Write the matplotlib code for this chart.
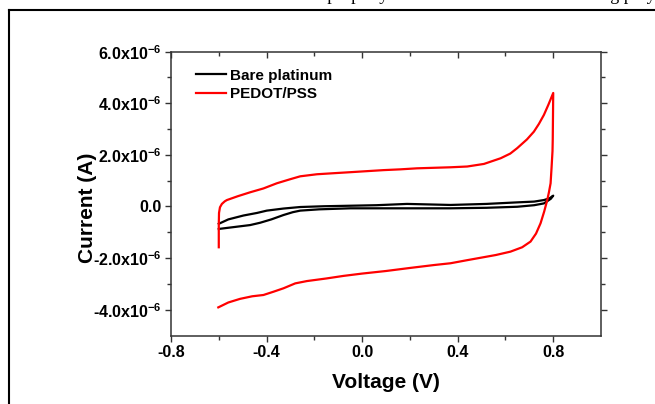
import matplotlib
matplotlib.use('Agg')
import matplotlib.pyplot as plt
from matplotlib.lines import Line2D
import numpy as np

plt.rcParams['font.family'] = 'Liberation Sans'
plt.rcParams['font.weight'] = 'bold'
plt.rcParams['mathtext.fontset'] = 'custom'
plt.rcParams['mathtext.rm'] = 'Liberation Sans:bold'
plt.rcParams['mathtext.bf'] = 'Liberation Sans:bold'

# Bare platinum CV (voltage in V, current in uA)
bare_v = [-0.600, -0.560, -0.497, -0.440, -0.399, -0.330, -0.259, -0.160, -0.049, 0.060,
          0.188, 0.280, 0.370, 0.520, 0.649, 0.720, 0.761, 0.785, 0.800,
          0.790, 0.761, 0.720, 0.649, 0.520, 0.370, 0.200, -0.049, -0.180, -0.259,
          -0.290, -0.329, -0.380, -0.427, -0.469, -0.539, -0.600]
bare_ua = [-0.67, -0.50, -0.35, -0.25, -0.16, -0.08, -0.02, 0.01, 0.03, 0.05,
           0.10, 0.08, 0.06, 0.10, 0.16, 0.19, 0.25, 0.32, 0.42,
           0.30, 0.12, 0.05, -0.01, -0.05, -0.07, -0.07, -0.07, -0.11, -0.16,
           -0.22, -0.33, -0.50, -0.63, -0.72, -0.80, -0.87]

# PEDOT/PSS CV (voltage in V, current in uA)
pedot_v = [-0.600, -0.600, -0.599, -0.595, -0.587, -0.575, -0.566, -0.520, -0.469, -0.413,
           -0.357, -0.300, -0.259, -0.189, -0.120, -0.049, 0.020, 0.090, 0.160, 0.230,
           0.300, 0.370, 0.440, 0.510, 0.580, 0.620, 0.649, 0.690, 0.719, 0.740,
           0.761, 0.780, 0.800,
           0.799, 0.798, 0.797, 0.793, 0.789, 0.782, 0.775, 0.762, 0.747, 0.728,
           0.705, 0.670, 0.621, 0.560, 0.500, 0.440, 0.370, 0.300, 0.202, 0.100,
           0.000, -0.078, -0.150, -0.231, -0.280, -0.329, -0.370, -0.413, -0.460,
           -0.511, -0.560, -0.602]
pedot_ua = [-1.58, -0.70, -0.25, -0.03, 0.10, 0.20, 0.25, 0.40, 0.55, 0.70,
            0.90, 1.06, 1.17, 1.25, 1.29, 1.33, 1.37, 1.41, 1.44, 1.48,
            1.50, 1.52, 1.55, 1.65, 1.87, 2.05, 2.26, 2.60, 2.90, 3.20,
            3.55, 3.95, 4.40,
            3.50, 2.60, 2.15, 1.50, 0.90, 0.55, 0.25, -0.20, -0.65, -1.05,
            -1.36, -1.58, -1.75, -1.88, -1.98, -2.08, -2.20, -2.27, -2.38, -2.50,
            -2.60, -2.69, -2.79, -2.89, -2.98, -3.17, -3.30, -3.43, -3.48,
            -3.58, -3.72, -3.91]

x_ticks = [-0.8, -0.4, 0.0, 0.4, 0.8]
x_ticklabels = ['-0.8', '-0.4', '0.0', '0.4', '0.8']
y_ticks = [-4e-6, -2e-6, 0.0, 2e-6, 4e-6, 6e-6]
y_ticklabels = [r'-4.0x10$^{-6}$', r'-2.0x10$^{-6}$', '0.0',
                r'2.0x10$^{-6}$', r'4.0x10$^{-6}$', r'6.0x10$^{-6}$']

fig = plt.figure(figsize=(6.55, 4.04), dpi=100)
ax = fig.add_axes([171/655, 68.5/404, 430/655, 283.8/404])

ax.plot(bare_v, np.array(bare_ua)*1e-6, color='black', lw=1.6, label='Bare platinum')
ax.plot(pedot_v, np.array(pedot_ua)*1e-6, color='#ff0000', lw=1.6, label='PEDOT/PSS')

ax.set_xlim(-0.8, 1.0)
ax.set_ylim(-5e-6, 6e-6)
ax.set_xticks(x_ticks)
ax.set_xticklabels(x_ticklabels)
ax.set_xticks(np.arange(-0.6, 1.0, 0.4), minor=True)
ax.set_yticks(y_ticks)
ax.set_yticklabels(y_ticklabels)
ax.set_yticks([-3e-6, -1e-6, 1e-6, 3e-6, 5e-6], minor=True)

for s in ax.spines.values():
    s.set_color('#333333')
    s.set_linewidth(1.1)
ax.tick_params(which='both', direction='out', top=True, right=True,
               labelsize=11.5, pad=3, color='#333333', width=1.0)
ax.tick_params(which='major', length=4)
ax.tick_params(which='minor', length=3)
for t in ax.xaxis.get_ticklines(minor=False)[1::2] + ax.xaxis.get_ticklines(minor=True)[1::2]:
    t.set_marker(3)
for t in ax.yaxis.get_ticklines(minor=False)[1::2] + ax.yaxis.get_ticklines(minor=True)[1::2]:
    t.set_marker(1)

ax.set_xlabel('Voltage (V)', fontsize=15, fontweight='bold', labelpad=9)
ax.set_ylabel('Current (A)', fontsize=15, fontweight='bold')
ax.yaxis.set_label_coords(-0.172, 0.45)

ax.legend(loc='upper left', bbox_to_anchor=(0.058, 0.94), frameon=False,
          fontsize=11, handlelength=2.0, handletextpad=0.25,
          labelspacing=0.28, borderpad=0, borderaxespad=0)

# outer frame of the page figure
fig.add_artist(Line2D([9/655, 1.0], [1 - 10/404, 1 - 10/404], transform=fig.transFigure,
                      color='black', lw=1.5))
fig.add_artist(Line2D([9/655, 9/655], [0.0, 1 - 10/404], transform=fig.transFigure,
                      color='black', lw=1.5))
fig.text(0.278, 1.0, 'the electrochemical property of bare and the new conducting poly',
         family='Liberation Serif', fontweight='normal', fontsize=13, va='baseline', ha='left')

fig.savefig('out.png', dpi=100)
